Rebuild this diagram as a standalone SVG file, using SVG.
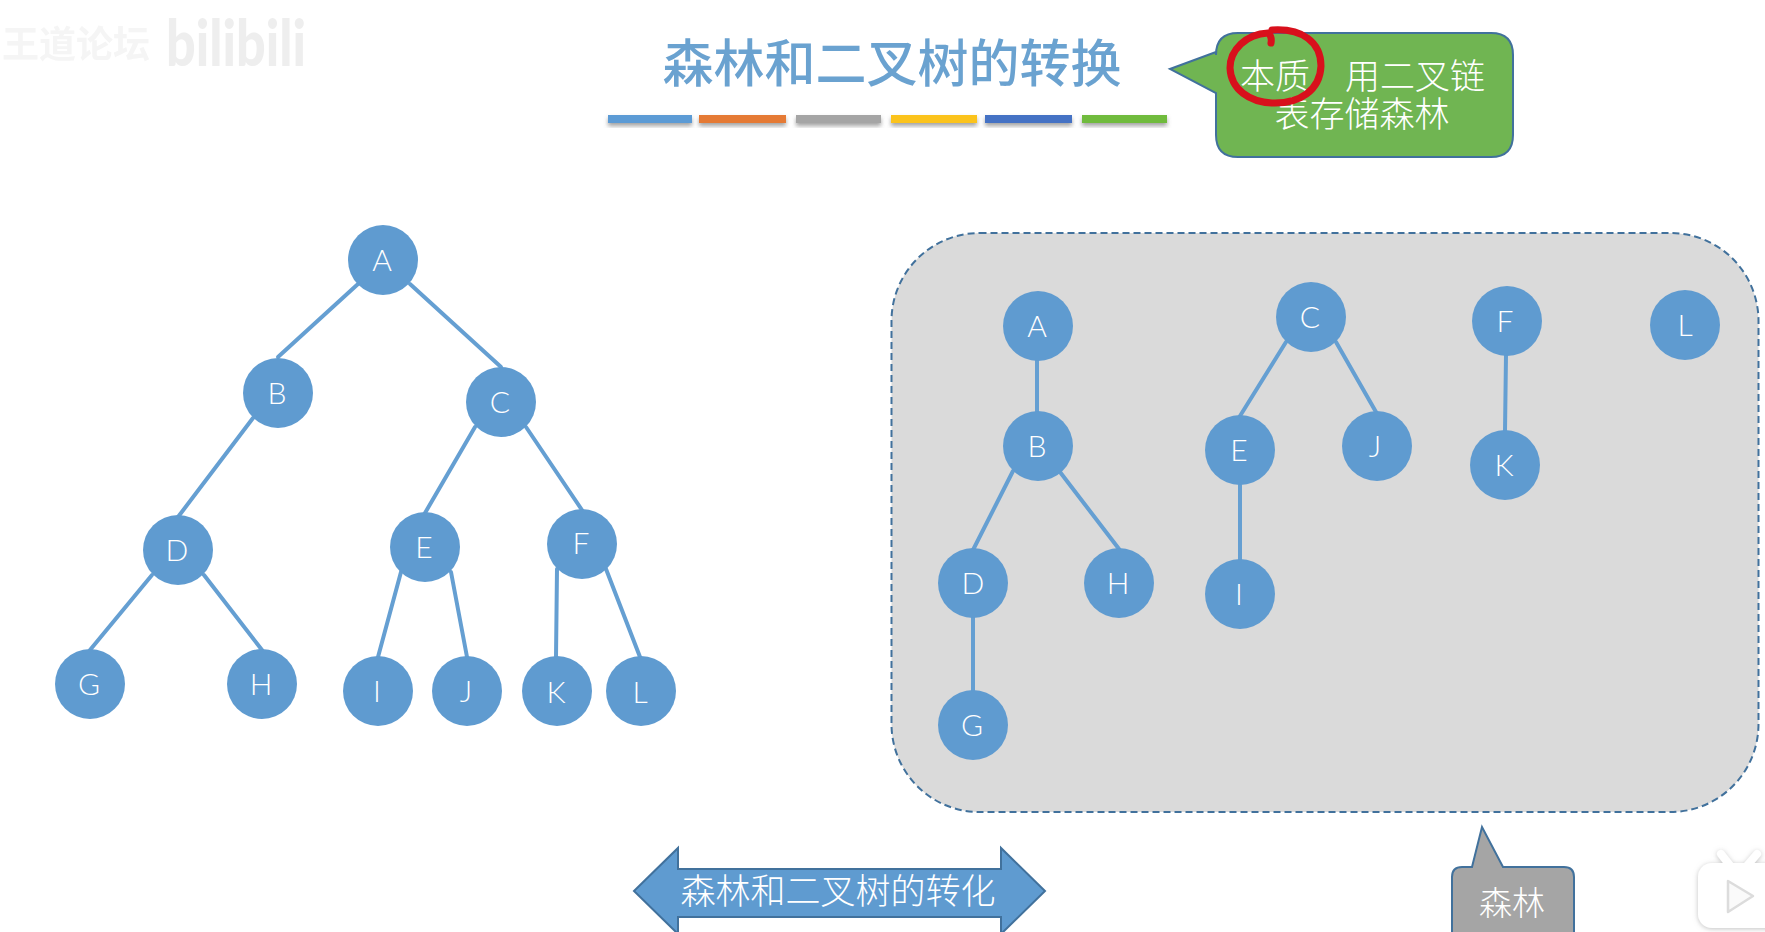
<svg xmlns="http://www.w3.org/2000/svg" width="1765" height="932" viewBox="0 0 1765 932">
<style>
.cjk{font-family:"Liberation Sans","Noto Sans CJK SC",sans-serif}
.n circle,.n use{fill:#5f9bd0}
.n text{font-family:Lato,"Liberation Sans",sans-serif;font-size:30px;font-weight:300;fill:#fff;text-anchor:middle}
#connectors line{stroke:#659fd2;stroke-width:4;stroke-linecap:round}
.w{fill:#fff;text-anchor:middle;font-family:"Noto Sans CJK SC",sans-serif;font-weight:300}
</style>
<defs>
<circle id="c" r="35"/>
<filter id="s" x="-5%" y="-30%" width="110%" height="190%"><feDropShadow dx="0" dy="3" stdDeviation="2" flood-color="#555" flood-opacity=".55"/></filter>
<filter id="b" x="-5%" y="-5%" width="110%" height="110%"><feGaussianBlur stdDeviation=".6"/></filter>
<filter id="t" x="-5%" y="-10%" width="110%" height="130%"><feGaussianBlur stdDeviation=".5"/></filter>
<filter id="l" x="-20%" y="-20%" width="140%" height="140%"><feDropShadow dx="0" dy="1" stdDeviation="2.500" flood-color="#999" flood-opacity=".6"/></filter>
</defs>
<rect width="1765" height="932" fill="#fff"/>
<g id="watermark" filter="url(#b)">
<text x="2" y="58" class="cjk" font-size="37" fill="#f5f5f5" font-weight="700">王道论坛</text>
<text x="166" y="66" font-family="Lato,sans-serif" font-weight="900" font-size="64" fill="#eeeeee" textLength="140" lengthAdjust="spacingAndGlyphs">bilibili</text>
</g>
<g id="title">
<text x="892" y="82" text-anchor="middle" font-family="Noto Sans CJK SC,sans-serif" font-size="51" font-weight="500" fill="#6ba2d0" filter="url(#t)">森林和二叉树的转换</text>
</g>
<g id="bars" filter="url(#s)">
<rect x="608" y="115" width="84" height="8" fill="#5b9bd5"/>
<rect x="699" y="115" width="87" height="8" fill="#e57a36"/>
<rect x="796" y="115" width="85" height="8" fill="#a5a5a5"/>
<rect x="891" y="115" width="86" height="8" fill="#fbc31c"/>
<rect x="985" y="115" width="87" height="8" fill="#4472c4"/>
<rect x="1082" y="115" width="85" height="8" fill="#70bb3e"/>
</g>
<g id="callout-top">
<path d="M1238 33H1491Q1513 33 1513 55V135Q1513 157 1491 157H1238Q1216 157 1216 135V93L1170 69L1216 52V55Q1216 33 1238 33Z" fill="#70b552" stroke="#41719c" stroke-width="2"/>
<text x="1275" y="89" class="w" font-size="35">本质</text>
<text x="1415" y="89" class="w" font-size="35">用二叉链</text>
<text x="1362" y="127" class="w" font-size="35">表存储森林</text>
<path d="M1271 43C1272 38 1270 34 1268 33C1246 34 1230 50 1230 68C1231 90 1250 102 1272 103C1300 104 1320 90 1321 66C1321 42 1302 28 1272 30" fill="none" stroke="#d8101c" stroke-width="7" stroke-linecap="round"/>
</g>
<g id="panel">
<rect x="891.500" y="233" width="867" height="579" rx="88" fill="#dadada" stroke="#41719c" stroke-width="2" stroke-dasharray="7 4"/>
</g>
<g id="connectors">
<line x1="358" y1="284" x2="278" y2="357"/>
<line x1="410" y1="284" x2="501" y2="367"/>
<line x1="253" y1="418" x2="178" y2="517"/>
<line x1="475" y1="427" x2="425" y2="513"/>
<line x1="526" y1="427" x2="582" y2="510"/>
<line x1="152" y1="575" x2="90" y2="650"/>
<line x1="204" y1="575" x2="262" y2="650"/>
<line x1="401" y1="572" x2="378" y2="657"/>
<line x1="451" y1="572" x2="467" y2="657"/>
<line x1="557" y1="569" x2="556" y2="657"/>
<line x1="606" y1="569" x2="640" y2="657"/>
<line x1="1037" y1="360" x2="1037" y2="412"/>
<line x1="1013" y1="471" x2="973" y2="550"/>
<line x1="1060" y1="472" x2="1119" y2="549"/>
<line x1="973" y1="617" x2="973" y2="692"/>
<line x1="1286" y1="342" x2="1240" y2="416"/>
<line x1="1336" y1="342" x2="1376" y2="412"/>
<line x1="1240" y1="485" x2="1240" y2="560"/>
<line x1="1506" y1="355" x2="1505" y2="431"/>
</g>
<g class="n" id="a1"><use href="#c" x="383" y="260"/><text x="382" y="271">A</text></g>
<g class="n" id="b1"><use href="#c" x="278" y="393"/><text x="277" y="404">B</text></g>
<g class="n" id="c1"><use href="#c" x="501" y="402"/><text x="500" y="413">C</text></g>
<g class="n" id="d1"><use href="#c" x="178" y="550"/><text x="177" y="561">D</text></g>
<g class="n" id="e1"><use href="#c" x="425" y="547"/><text x="424" y="558">E</text></g>
<g class="n" id="f1"><use href="#c" x="582" y="544"/><text x="581" y="554">F</text></g>
<g class="n" id="g1"><use href="#c" x="90" y="684"/><text x="89" y="695">G</text></g>
<g class="n" id="h1"><use href="#c" x="262" y="684"/><text x="261" y="695">H</text></g>
<g class="n" id="i1"><use href="#c" x="378" y="691"/><text x="377" y="702">I</text></g>
<g class="n" id="j1"><use href="#c" x="467" y="691"/><text x="466" y="702">J</text></g>
<g class="n" id="k1"><use href="#c" x="557" y="691"/><text x="556" y="703">K</text></g>
<g class="n" id="l1"><use href="#c" x="641" y="691"/><text x="640" y="703">L</text></g>
<g class="n" id="a2"><use href="#c" x="1038" y="326"/><text x="1037" y="337">A</text></g>
<g class="n" id="b2"><use href="#c" x="1038" y="446"/><text x="1037" y="457">B</text></g>
<g class="n" id="d2"><use href="#c" x="973" y="583"/><text x="973" y="594">D</text></g>
<g class="n" id="h2"><use href="#c" x="1119" y="583"/><text x="1118" y="594">H</text></g>
<g class="n" id="g2"><use href="#c" x="973" y="725"/><text x="972" y="736">G</text></g>
<g class="n" id="c2"><use href="#c" x="1311" y="317"/><text x="1310" y="328">C</text></g>
<g class="n" id="e2"><use href="#c" x="1240" y="450"/><text x="1239" y="461">E</text></g>
<g class="n" id="j2"><use href="#c" x="1377" y="446"/><text x="1375" y="457">J</text></g>
<g class="n" id="i2"><use href="#c" x="1240" y="594"/><text x="1239" y="605">I</text></g>
<g class="n" id="f2"><use href="#c" x="1507" y="321"/><text x="1505" y="332">F</text></g>
<g class="n" id="k2"><use href="#c" x="1505" y="465"/><text x="1504" y="476">K</text></g>
<g class="n" id="l2"><use href="#c" x="1685" y="325"/><text x="1685" y="336">L</text></g>
<g id="arrow">
<path d="M634 891L678 848V869H1001V848L1045 891L1001 934V917H678V934Z" fill="#5f9bd0" stroke="#41719c" stroke-width="2"/>
<text x="838" y="904" class="w" font-size="35">森林和二叉树的转化</text>
</g>
<g id="callout-bottom">
<path d="M1462 867H1472L1482 827L1503 867H1564Q1574 867 1574 877V940H1452V877Q1452 867 1462 867Z" fill="#a5a5a5" stroke="#41719c" stroke-width="2"/>
<text x="1512" y="915" class="w" font-size="33">森林</text>
</g>
<g id="logo">
<g filter="url(#l)" fill="#fff">
<path d="M1721 854L1732 868M1757 854L1745 868" stroke="#fff" stroke-width="8" stroke-linecap="round" fill="none"/>
<rect x="1698" y="863" width="90" height="65" rx="14"/>
</g>
<path d="M1728 881L1753 896L1728 912Z" fill="#fafafa" stroke="#dcdcdc" stroke-width="2.500" stroke-linejoin="round"/>
</g>
</svg>
